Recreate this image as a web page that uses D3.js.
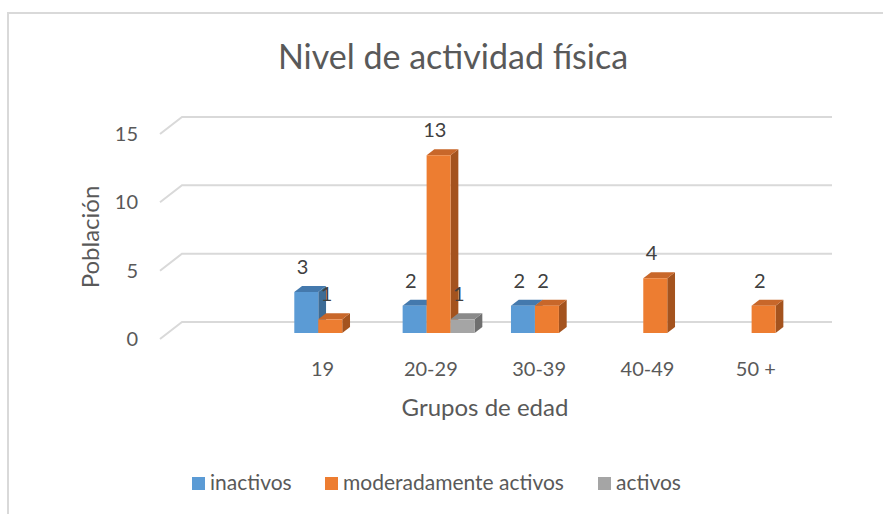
<!DOCTYPE html>
<html>
<head>
<meta charset="utf-8">
<script src="https://cdn.jsdelivr.net/npm/d3@7"></script>
<style>
  html, body { margin: 0; padding: 0; background: #fff; }
  svg { display: block; font-family: Lato, "Open Sans", sans-serif; }
</style>
</head>
<body>
<svg id="chart" width="883" height="514"></svg>
<script>
// Age groups (the first slot of the 3D floor is an empty category)
const categories = ["", "19", "20-29", "30-39", "40-49", "50 +"];
const seriesNames = ["inactivos", "moderadamente activos", "activos"];
const inactivos = [null, 3, 2, 2, null, null];
const moderados = [null, 1, 13, 2, 4, 2];
const activos   = [null, null, 1, null, null, null];
const yTicks = [0, 5, 10, 15];

const seriesValues = [inactivos, moderados, activos];
const palette = [
  { front: "#5b9bd5", top: "#4479ad", side: "#3d6c96" },
  { front: "#ed7d31", top: "#c8672a", side: "#a4531e" },
  { front: "#a5a5a5", top: "#8a8a8a", side: "#6f6f6f" }
];

const svg = d3.select("#chart");

// chart frame
svg.append("rect")
  .attr("x", 8).attr("y", 13).attr("width", 900).attr("height", 520)
  .attr("fill", "#fff").attr("stroke", "#d9d9d9").attr("stroke-width", 2);

// oblique projection of the 3D box
const depthDX = 22, depthDY = 17;
const x = d3.scaleBand().domain(categories).range([160, 810]).paddingInner(0).paddingOuter(0);
const y = d3.scaleLinear().domain([0, 15]).range([339, 134]);
const barDepth0 = 0.353, barDepth1 = 0.706;
const groupWidth = x.bandwidth() * 0.664;
const xs = d3.scaleBand().domain(d3.range(seriesNames.length)).range([0, groupWidth]);

const proj = (px, v, d) => [px + depthDX * d, y(v) - depthDY * d];

// gridlines: left-wall diagonal plus back-wall horizontal
const grid = svg.append("g").attr("stroke", "#d9d9d9").attr("stroke-width", 2).attr("fill", "none");
yTicks.forEach(t => {
  const a = proj(x.range()[0], t, 0), b = proj(x.range()[0], t, 1), c = proj(x.range()[1], t, 1);
  grid.append("path").attr("d", d3.line()([a, b, c]));
});

// y axis tick labels
svg.append("g").selectAll("text").data(yTicks).join("text")
  .attr("x", 138).attr("y", d => y(d)).attr("dy", "0.35em")
  .attr("text-anchor", "end").attr("fill", "#595959").attr("font-size", 20)
  .text(d => d);

// x axis category labels
svg.append("g").selectAll("text").data(categories).join("text")
  .attr("x", d => x(d) + x.bandwidth() / 2)
  .attr("y", 369).attr("dy", "0.35em")
  .attr("text-anchor", "middle").attr("fill", "#595959").attr("font-size", 20)
  .text(d => d);

// bars, drawn category by category, series left to right
const bars = svg.append("g");
const labels = svg.append("g");
categories.forEach((cat, ci) => {
  const gx0 = x(cat) + (x.bandwidth() - groupWidth) / 2;
  seriesValues.forEach((vals, si) => {
    const v = vals[ci];
    if (v == null) return;
    const bx0 = gx0 + xs(si), bx1 = bx0 + xs.bandwidth();
    const col = palette[si];
    const f00 = proj(bx0, 0, barDepth0), f10 = proj(bx1, 0, barDepth0);
    const f01 = proj(bx0, v, barDepth0), f11 = proj(bx1, v, barDepth0);
    const b11 = proj(bx1, v, barDepth1), b01 = proj(bx0, v, barDepth1);
    const b10 = proj(bx1, 0, barDepth1);
    const poly = pts => "M" + pts.map(p => p.join(",")).join("L") + "Z";
    bars.append("path").attr("d", poly([f10, b10, b11, f11])).attr("fill", col.side);
    bars.append("path").attr("d", poly([f01, f11, b11, b01])).attr("fill", col.top);
    bars.append("path").attr("d", poly([f00, f10, f11, f01])).attr("fill", col.front);
    labels.append("text")
      .attr("x", (bx0 + bx1) / 2 + 4)
      .attr("y", b01[1] - 12)
      .attr("text-anchor", "middle").attr("fill", "#404040").attr("font-size", 20)
      .text(v);
  });
});

// title
svg.append("text").attr("x", 453).attr("y", 69)
  .attr("text-anchor", "middle").attr("fill", "#595959").attr("font-size", 34)
  .text("Nivel de actividad física");

// axis titles
svg.append("text")
  .attr("transform", "translate(99,237) rotate(-90)")
  .attr("text-anchor", "middle").attr("fill", "#595959").attr("font-size", 24)
  .text("Población");
svg.append("text").attr("x", 485).attr("y", 416)
  .attr("text-anchor", "middle").attr("fill", "#595959").attr("font-size", 24)
  .text("Grupos de edad");

// legend
const legendPos = [192, 325, 598];
const legend = svg.append("g");
seriesNames.forEach((name, i) => {
  legend.append("rect").attr("x", legendPos[i]).attr("y", 477)
    .attr("width", 13).attr("height", 13).attr("fill", palette[i].front);
  legend.append("text").attr("x", legendPos[i] + 18).attr("y", 490)
    .attr("fill", "#595959").attr("font-size", 21).text(name);
});
</script>
</body>
</html>
